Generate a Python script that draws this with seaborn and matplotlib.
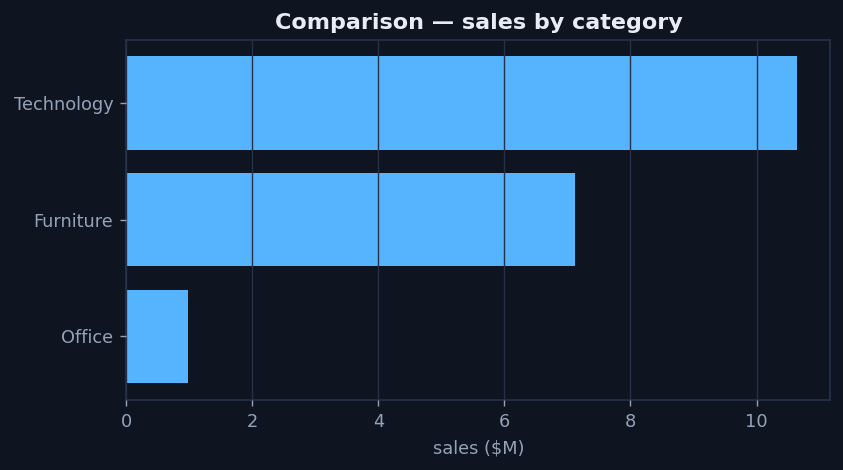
import seaborn as sns
import matplotlib.pyplot as plt
import pandas as pd

# Data
categories = ["Technology", "Furniture", "Office"]
sales = [10.64, 7.12, 0.97]

bg = "#0f1421"
grid_color = "#263049"
text_color = "#94a3b8"
bar_color = "#56b4ff"

sns.set_theme(style="dark")
plt.rcParams["font.family"] = ["DejaVu Sans"]

df = pd.DataFrame({"category": categories, "sales": sales})

fig, ax = plt.subplots(figsize=(8.43, 4.70), dpi=100)
fig.patch.set_facecolor(bg)
ax.set_facecolor(bg)

sns.barplot(data=df, x="sales", y="category", color=bar_color, saturation=1,
            width=0.8, linewidth=0, ax=ax)

# matplotlib-style margins around the bars
ax.set_ylim(2.54, -0.54)

# grid is drawn on top of the bars
ax.set_axisbelow(False)
ax.grid(axis="x", color=grid_color, linewidth=1)
ax.grid(axis="y", visible=False)

for s in ax.spines.values():
    s.set_color(grid_color)
    s.set_visible(True)

ax.tick_params(colors=text_color, labelsize=12.8, bottom=True, left=True,
               length=4.5, width=1, color=text_color, pad=5)
ax.set_xlabel("sales ($M)", color=text_color, fontsize=12.8, labelpad=6)
ax.set_ylabel("")
ax.set_title("Comparison — sales by category", color="#e8ecf5", fontsize=16,
             fontweight="bold", pad=8)

fig.subplots_adjust(left=0.15, right=0.985, top=0.915, bottom=0.15)
fig.savefig("out.png", dpi=100, facecolor=bg)
